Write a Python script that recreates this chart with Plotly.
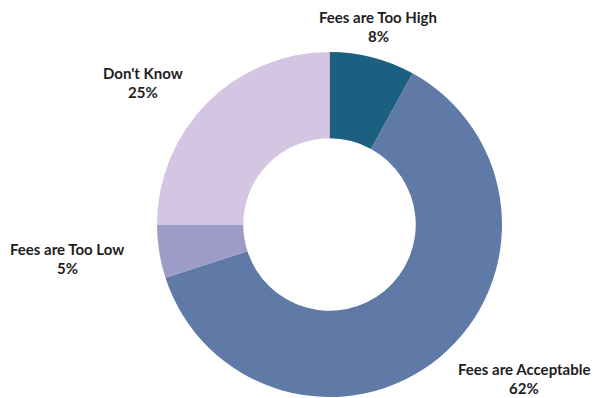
import plotly.graph_objects as go

# Survey responses on fee levels
categories = ["Fees are Too High", "Fees are Acceptable", "Fees are Too Low", "Don't Know"]
shares = [8, 62, 5, 25]
colors = ["#1d5f80", "#5f7aa7", "#9c9cc7", "#d4c5e3"]

# label anchor points (pixels from the top-left of the page)
label_x = [378, 524, 67, 143]
label_y = [17, 369, 249, 73]

W, H = 593, 398

fig = go.Figure(go.Pie(
    labels=categories,
    values=shares,
    hole=0.5,
    sort=False,
    direction="clockwise",
    rotation=0,
    marker=dict(colors=colors, line=dict(width=0)),
    textinfo="none",
    hoverinfo="label+percent",
    domain=dict(x=[157 / W, 502 / W], y=[(H - 397) / H, (H - 52) / H]),
    showlegend=False,
))

font = dict(family="Lato, 'Open Sans', sans-serif", size=15, color="#1e1e1e")
for name, val, x, y in zip(categories, shares, label_x, label_y):
    fig.add_annotation(x=x / W, y=1 - y / H, xref="paper", yref="paper",
                       text=f"<b>{name}</b>", showarrow=False,
                       xanchor="center", yanchor="middle", font=font)
    fig.add_annotation(x=x / W, y=1 - (y + 19) / H, xref="paper", yref="paper",
                       text=f"<b>{val}%</b>", showarrow=False,
                       xanchor="center", yanchor="middle", font=font)

fig.update_layout(
    width=W, height=H,
    margin=dict(l=0, r=0, t=0, b=0),
    paper_bgcolor="white",
    plot_bgcolor="white",
)

fig.write_html("out.html")
